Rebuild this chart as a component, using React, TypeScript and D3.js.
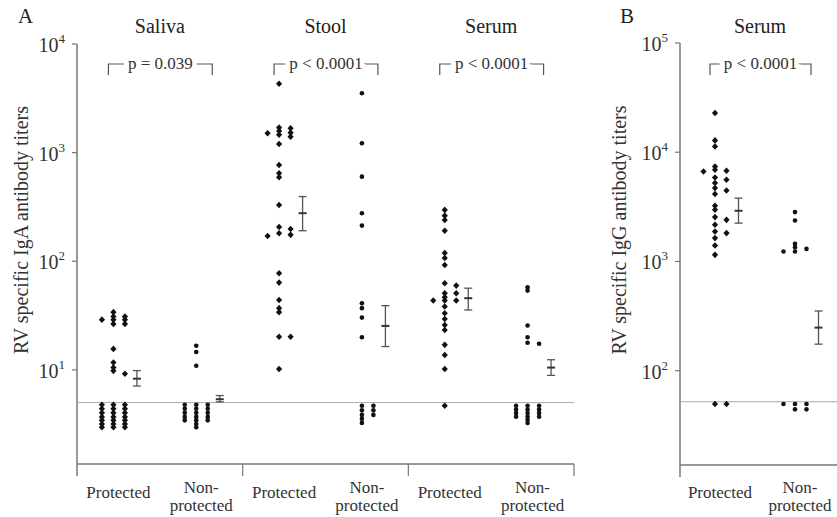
import React from "react";
import * as d3 from "d3";

const groups = ["Protected", "Non-protected"];

// Panel A - RV specific IgA titers
const specimensA = ["Saliva", "Stool", "Serum"];
const salivaProtected = [
  34, 31, 31, 29, 29, 29, 26.5, 26.5, 15.6, 11.7, 10.5, 9.8, 9.2,
  4.77, 4.77, 4.77, 4.38, 4.38, 4.38, 4.02, 4.02, 4.02, 3.69, 3.69, 3.69,
  3.43, 3.43, 3.43, 3.18, 3.18, 3.18, 2.96, 2.96, 2.96,
];
const salivaNonProtected = [
  16.7, 14.6, 10.9, 4.77, 4.77, 4.77, 4.38, 4.38, 4.38, 4.02, 4.02, 4.02,
  3.69, 3.69, 3.69, 3.43, 3.43, 3.43, 3.18, 2.96,
];
const stoolProtected = [
  4300, 1700, 1675, 1580, 1527, 1506, 1462, 1403, 1202, 769, 645, 593, 330,
  207, 198, 181, 175, 171, 77.6, 63.6, 44, 37, 34, 20.2, 20.2, 10.2,
];
const stoolNonProtected = [
  3515, 1218, 601, 277, 213, 41, 37, 30.3, 20, 4.67, 4.67, 4.24, 4.24, 3.85,
  3.85, 3.54, 3.25,
];
const serumProtected = [
  297, 263, 240, 191, 119, 107, 92.5, 62.8, 59.7, 50.8, 50.8, 46.7, 43.5,
  43.5, 43.5, 38.3, 33.2, 29.4, 25.9, 23.3, 17, 13.7, 10.2, 4.67,
];
const serumNonProtected = [
  57.7, 53.7, 25.6, 20, 17.8, 17.4, 4.67, 4.67, 4.67, 4.32, 4.32, 4.32, 4.0,
  4.0, 4.0, 3.71, 3.71, 3.71, 3.47, 3.24,
];
// [mean, lower, upper] per group
const salivaSem = [[8.3, 7.1, 9.85], [5.37, 5.08, 5.8]];
const stoolSem = [[277, 191, 394], [25.4, 16.4, 39]];
const serumSem = [[45.7, 35.6, 56.5], [10.5, 8.9, 12.4]];
const pValuesA = ["p = 0.039", "p < 0.0001", "p < 0.0001"];
const ticksA = [10, 100, 1000, 10000];
const cutoffA = 5;

// Panel B - RV specific IgG titers
const specimensB = ["Serum"];
const serumIgGProtected = [
  22870, 12830, 11300, 7410, 6920, 6760, 6670, 5880, 5600, 5220, 4700, 4470,
  4140, 3236, 2972, 2548, 2405, 2167, 1879, 1818, 1636, 1400, 1150, 49.6, 49.6,
];
const serumIgGNonProtected = [
  2832, 2371, 1449, 1352, 1303, 1233, 1233, 49.6, 49.6, 49.6, 44.3, 44.3,
];
const serumIgGSem = [[2911, 2244, 3800], [248, 175, 352]];
const pValuesB = ["p < 0.0001"];
const ticksB = [100, 1000, 10000, 100000];
const cutoffB = 52;

const FONT = "'Liberation Serif', 'Times New Roman', serif";
const AXIS = "#777";

// simple dot-plot layout: near-equal values spread sideways into columns
function swarm(values, y) {
  const order = [0, 1, -1, 2, -2, 3, -3];
  const placed = [];
  return [...values]
    .sort((a, b) => b - a)
    .map((v) => {
      const py = y(v);
      const col =
        order.find(
          (c) => !placed.some((p) => p.col === c && Math.abs(p.py - py) < 3),
        ) ?? 0;
      placed.push({ col, py });
      return { v, py, col };
    });
}

function Panel({
  letter,
  letterX,
  ylabel,
  ylabelX,
  specimens,
  values,
  sems,
  pvals,
  domain,
  yRange,
  xRange,
  ticks,
  cutoff,
}) {
  const y = d3.scaleLog().domain(domain).range(yRange);
  const x = d3.scaleBand().domain(specimens).range(xRange);
  const sub = d3.scaleBand().domain(groups).range([0, x.bandwidth()]);
  const colW = 11.5;
  const x0 = xRange[0];
  const yBottom = yRange[0];

  return (
    <g fontFamily={FONT}>
      <text x={letterX} y={23} fontSize={21} fill="#222" fontFamily={FONT}>
        {letter}
      </text>
      <text
        transform={`translate(${ylabelX},230) rotate(-90)`}
        textAnchor="middle"
        fontSize={20}
        fill="#333"
        fontFamily={FONT}
      >
        {ylabel}
      </text>

      {/* y axis */}
      <line x1={x0} x2={x0} y1={yRange[1]} y2={yBottom + 12} stroke={AXIS} strokeWidth={1.5} />
      {ticks.map((t) => (
        <g key={t}>
          <line x1={x0 - 5} x2={x0} y1={y(t)} y2={y(t)} stroke={AXIS} strokeWidth={1.2} />
          <text
            x={x0 - 12}
            y={y(t) + 8}
            textAnchor="end"
            fontSize={20}
            fill="#333"
            fontFamily={FONT}
          >
            10
            <tspan dy={-9} fontSize={13}>
              {Math.round(Math.log10(t))}
            </tspan>
          </text>
        </g>
      ))}

      {/* x axis */}
      <line x1={x0} x2={xRange[1]} y1={yBottom} y2={yBottom} stroke={AXIS} strokeWidth={1.5} />
      {specimens.map((s) => (
        <line
          key={s}
          x1={x(s) + x.bandwidth()}
          x2={x(s) + x.bandwidth()}
          y1={yBottom}
          y2={yBottom + 12}
          stroke={AXIS}
          strokeWidth={1.2}
        />
      ))}

      {/* detection cutoff */}
      <line x1={x0} x2={xRange[1]} y1={y(cutoff)} y2={y(cutoff)} stroke="#aaa" strokeWidth={1} />

      {specimens.map((s, i) => {
        const cP = x(s) + sub("Protected") + sub.bandwidth() / 2;
        const cN = x(s) + sub("Non-protected") + sub.bandwidth() / 2;
        const bl = cP - 10;
        const br = cN + 11;
        return (
          <g key={s}>
            <text
              x={x(s) + x.bandwidth() / 2}
              y={33}
              textAnchor="middle"
              fontSize={20}
              fill="#222"
              fontFamily={FONT}
            >
              {s}
            </text>
            <path
              d={`M${bl},75V64H${br}V75`}
              fill="none"
              stroke="#555"
              strokeWidth={1.2}
            />
            <text
              x={(bl + br) / 2}
              y={68.5}
              textAnchor="middle"
              fontSize={17}
              fill="#333"
              stroke="#fff"
              strokeWidth={9}
              paintOrder="stroke"
              fontFamily={FONT}
            >
              {pvals[i]}
            </text>
            {groups.map((g, gi) => {
              const cx = x(s) + sub(g) + sub.bandwidth() / 2;
              const dx = cx - 5;
              const pts = swarm(values[i][gi], y);
              const maxCol = d3.max(pts, (p) => p.col);
              const ex = dx + maxCol * colW + 12;
              const [m, lo, hi] = sems[i][gi];
              const lines = g.includes("-")
                ? [g.split("-")[0] + "-", g.split("-")[1]]
                : [g];
              return (
                <g key={g}>
                  {pts.map((p, k) =>
                    gi === 0 ? (
                      <path
                        key={k}
                        d={`M${dx + p.col * colW},${p.py - 3.3}l3.1,3.3l-3.1,3.3l-3.1,-3.3z`}
                        fill="#111"
                      />
                    ) : (
                      <circle key={k} cx={dx + p.col * colW} cy={p.py} r={2.3} fill="#111" />
                    ),
                  )}
                  <g stroke="#555" strokeWidth={1.3}>
                    <line x1={ex} x2={ex} y1={y(hi)} y2={y(lo)} />
                    <line x1={ex - 4} x2={ex + 4} y1={y(hi)} y2={y(hi)} />
                    <line x1={ex - 4} x2={ex + 4} y1={y(lo)} y2={y(lo)} />
                    <line x1={ex - 4} x2={ex + 4} y1={y(m)} y2={y(m)} strokeWidth={2} stroke="#333" />
                  </g>
                  {lines.map((t, li) => (
                    <text
                      key={t}
                      x={cx}
                      y={lines.length === 1 ? 498 : 493 + li * 18}
                      textAnchor="middle"
                      fontSize={17}
                      fill="#333"
                      fontFamily={FONT}
                    >
                      {t}
                    </text>
                  ))}
                </g>
              );
            })}
          </g>
        );
      })}
    </g>
  );
}

export default function App() {
  return (
    <svg
      width={837}
      height={517}
      style={{ position: "absolute", left: 0, top: 0, background: "#fff" }}
    >
      <Panel
        letter="A"
        letterX={18}
        ylabel="RV specific IgA antibody titers"
        ylabelX={28}
        specimens={specimensA}
        values={[
          [salivaProtected, salivaNonProtected],
          [stoolProtected, stoolNonProtected],
          [serumProtected, serumNonProtected],
        ]}
        sems={[salivaSem, stoolSem, serumSem]}
        pvals={pValuesA}
        domain={[1.36, 10000]}
        yRange={[464, 44]}
        xRange={[77, 574]}
        ticks={ticksA}
        cutoff={cutoffA}
      />
      <Panel
        letter="B"
        letterX={620}
        ylabel="RV specific IgG antibody titers"
        ylabelX={626}
        specimens={specimensB}
        values={[[serumIgGProtected, serumIgGNonProtected]]}
        sems={[serumIgGSem]}
        pvals={pValuesB}
        domain={[13.7, 100000]}
        yRange={[465, 43]}
        xRange={[680, 840]}
        ticks={ticksB}
        cutoff={cutoffB}
      />
    </svg>
  );
}
